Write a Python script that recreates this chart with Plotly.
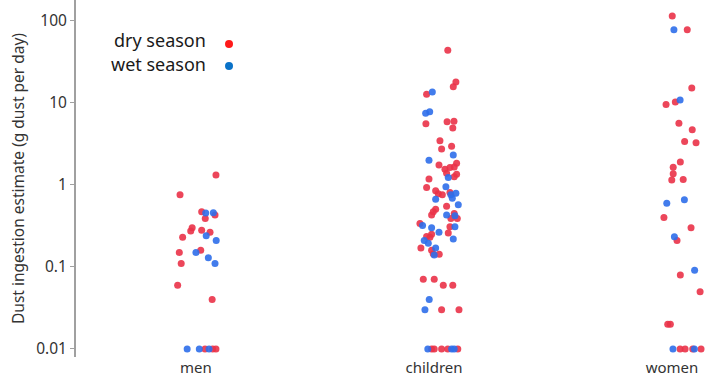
import plotly.graph_objects as go

# ---------------- data ----------------
categories = ["men", "children", "women"]
seasons = ["dry season", "wet season"]
y_tick_vals = [0.01, 0.1, 1, 10, 100]
y_tick_text = ["0.01", "0.1", "1", "10", "100"]

# values in g dust per day, with the horizontal jitter offsets as seen in the chart
men_dry = [1.32, 0.76, 0.47, 0.43, 0.39, 0.30, 0.275, 0.28, 0.265, 0.23, 0.16, 0.15,
           0.11, 0.06, 0.04, 0.01, 0.01, 0.01]
men_dry_jit = [0.084, -0.067, 0.024, 0.080, 0.039, -0.016, -0.022, 0.024, 0.059, -0.056,
               0.020, -0.070, -0.062, -0.077, 0.068, 0.038, 0.070, 0.084]
men_wet = [0.455, 0.46, 0.24, 0.21, 0.15, 0.13, 0.11, 0.01, 0.01, 0.01]
men_wet_jit = [0.041, 0.073, 0.043, 0.085, 0.0, 0.052, 0.080, -0.037, 0.014, 0.055]

children_dry = [44, 18, 15.8, 12.8, 5.6, 5.9, 6.0, 4.95, 3.47, 2.75, 2.97, 1.75, 1.84,
                1.66, 1.63, 1.55, 1.39, 1.35, 1.26, 1.18, 0.93, 0.85, 0.78, 0.76, 0.81,
                0.55, 0.505, 0.47, 0.43, 0.45, 0.39, 0.39, 0.34, 0.31, 0.26, 0.25, 0.235,
                0.23, 0.17, 0.16, 0.144, 0.143, 0.071, 0.071, 0.06, 0.06, 0.03, 0.03,
                0.01, 0.01, 0.01, 0.01, 0.01]
children_dry_jit = [0.058, 0.092, 0.081, -0.031, -0.034, 0.055, 0.084, 0.079, 0.025, 0.032,
                    0.074, 0.021, 0.095, 0.085, 0.067, 0.046, 0.053, 0.095, 0.085, -0.021,
                    -0.031, 0.007, 0.018, 0.035, 0.067, 0.053, 0.007, -0.003, -0.010, 0.085,
                    0.071, 0.098, -0.059, 0.067, 0.060, -0.010, -0.031, -0.017, -0.055,
                    -0.010, -0.003, 0.022, -0.045, 0.001, 0.039, 0.079, 0.032, 0.105,
                    -0.010, 0.001, 0.032, 0.058, 0.100]
children_wet = [13.6, 7.8, 7.5, 2.32, 2.0, 1.23, 0.95, 0.67, 0.76, 0.79, 0.69, 0.575,
                0.43, 0.42, 0.32, 0.30, 0.31, 0.265, 0.21, 0.195, 0.22, 0.17, 0.14, 0.04,
                0.03, 0.01, 0.01, 0.01]
children_wet_jit = [-0.007, -0.018, -0.035, 0.081, -0.021, 0.060, 0.050, 0.007, 0.071, 0.092,
                    0.077, 0.102, 0.053, 0.088, -0.048, -0.010, 0.088, 0.021, -0.041, -0.024,
                    0.081, 0.007, 0.001, -0.020, -0.038, -0.026, 0.074, 0.085]

women_dry = [115, 78, 15.2, 9.6, 10.3, 5.65, 4.7, 3.4, 3.28, 1.9, 1.64, 1.37, 1.15, 1.17,
             0.40, 0.30, 0.21, 0.08, 0.05, 0.02, 0.02, 0.01, 0.01, 0.01, 0.01]
women_dry_jit = [0.001, 0.064, 0.083, -0.025, 0.014, 0.029, 0.085, 0.053, 0.101, 0.035,
                 0.005, 0.005, -0.001, 0.047, -0.034, 0.080, 0.021, 0.035, 0.118, -0.018,
                 -0.007, 0.034, 0.055, 0.087, 0.122]
women_wet = [78, 10.9, 0.60, 0.66, 0.234, 0.091, 0.01, 0.01]
women_wet_jit = [0.008, 0.034, -0.022, 0.052, 0.010, 0.095, 0.004, 0.094]

dry_color = "#EA3248"
wet_color = "#2E6EEA"

groups = [
    (0, men_dry, men_dry_jit, men_wet, men_wet_jit),
    (1, children_dry, children_dry_jit, children_wet, children_wet_jit),
    (2, women_dry, women_dry_jit, women_wet, women_wet_jit),
]

fig = go.Figure()
for idx, dry, dry_j, wet, wet_j in groups:
    fig.add_trace(go.Scatter(
        x=[idx + j for j in dry_j], y=dry, mode="markers", name=seasons[0],
        marker=dict(color=dry_color, size=7, opacity=0.9), showlegend=False))
    fig.add_trace(go.Scatter(
        x=[idx + j for j in wet_j], y=wet, mode="markers", name=seasons[1],
        marker=dict(color=wet_color, size=7, opacity=0.9), showlegend=False))

font_family = "Noto Sans, Open Sans, sans-serif"

fig.update_layout(
    width=712, height=387,
    margin=dict(l=76, r=0, t=0, b=30),
    paper_bgcolor="white", plot_bgcolor="white",
    font=dict(family=font_family, size=15, color="#333333"),
    xaxis=dict(
        range=[-0.504, 2.168], tickvals=[0, 1, 2], ticktext=categories,
        showline=False, showgrid=False, zeroline=False, ticks="",
        tickfont=dict(size=15, color="#333333"),
    ),
    yaxis=dict(
        type="log", range=[-2.098, 2.256],
        tickvals=y_tick_vals, ticktext=y_tick_text,
        showline=True, linecolor="#a0a0a0", linewidth=2,
        ticks="outside", ticklen=4, tickcolor="#a0a0a0", tickwidth=1,
        showgrid=False, zeroline=False,
        tickfont=dict(size=15.5, color="#333333"),
        title=dict(text="Dust ingestion estimate (g dust per day)",
                   font=dict(size=15.5, color="#333333"), standoff=8),
    ),
    showlegend=False,
)

# legend drawn as text with the marker to its right
legend_items = [(seasons[0], "#FF1A1A", 0.888, 0.877), (seasons[1], "#0A72C8", 0.821, 0.815)]
for text, col, ty, my in legend_items:
    fig.add_annotation(text=text, xref="paper", yref="paper", x=0.2075, y=ty,
                       xanchor="right", yanchor="middle", showarrow=False,
                       font=dict(size=18, color="#1a1a1a", family=font_family))
    fig.add_shape(type="circle", xref="paper", yref="paper", xsizemode="pixel",
                  ysizemode="pixel", xanchor=0.2406, yanchor=my,
                  x0=-4, x1=4, y0=-4, y1=4, fillcolor=col, line=dict(width=0))

fig.write_html("out.html", config={"displayModeBar": False},
               post_script="document.body.style.margin='0';document.body.style.overflow='hidden';")
